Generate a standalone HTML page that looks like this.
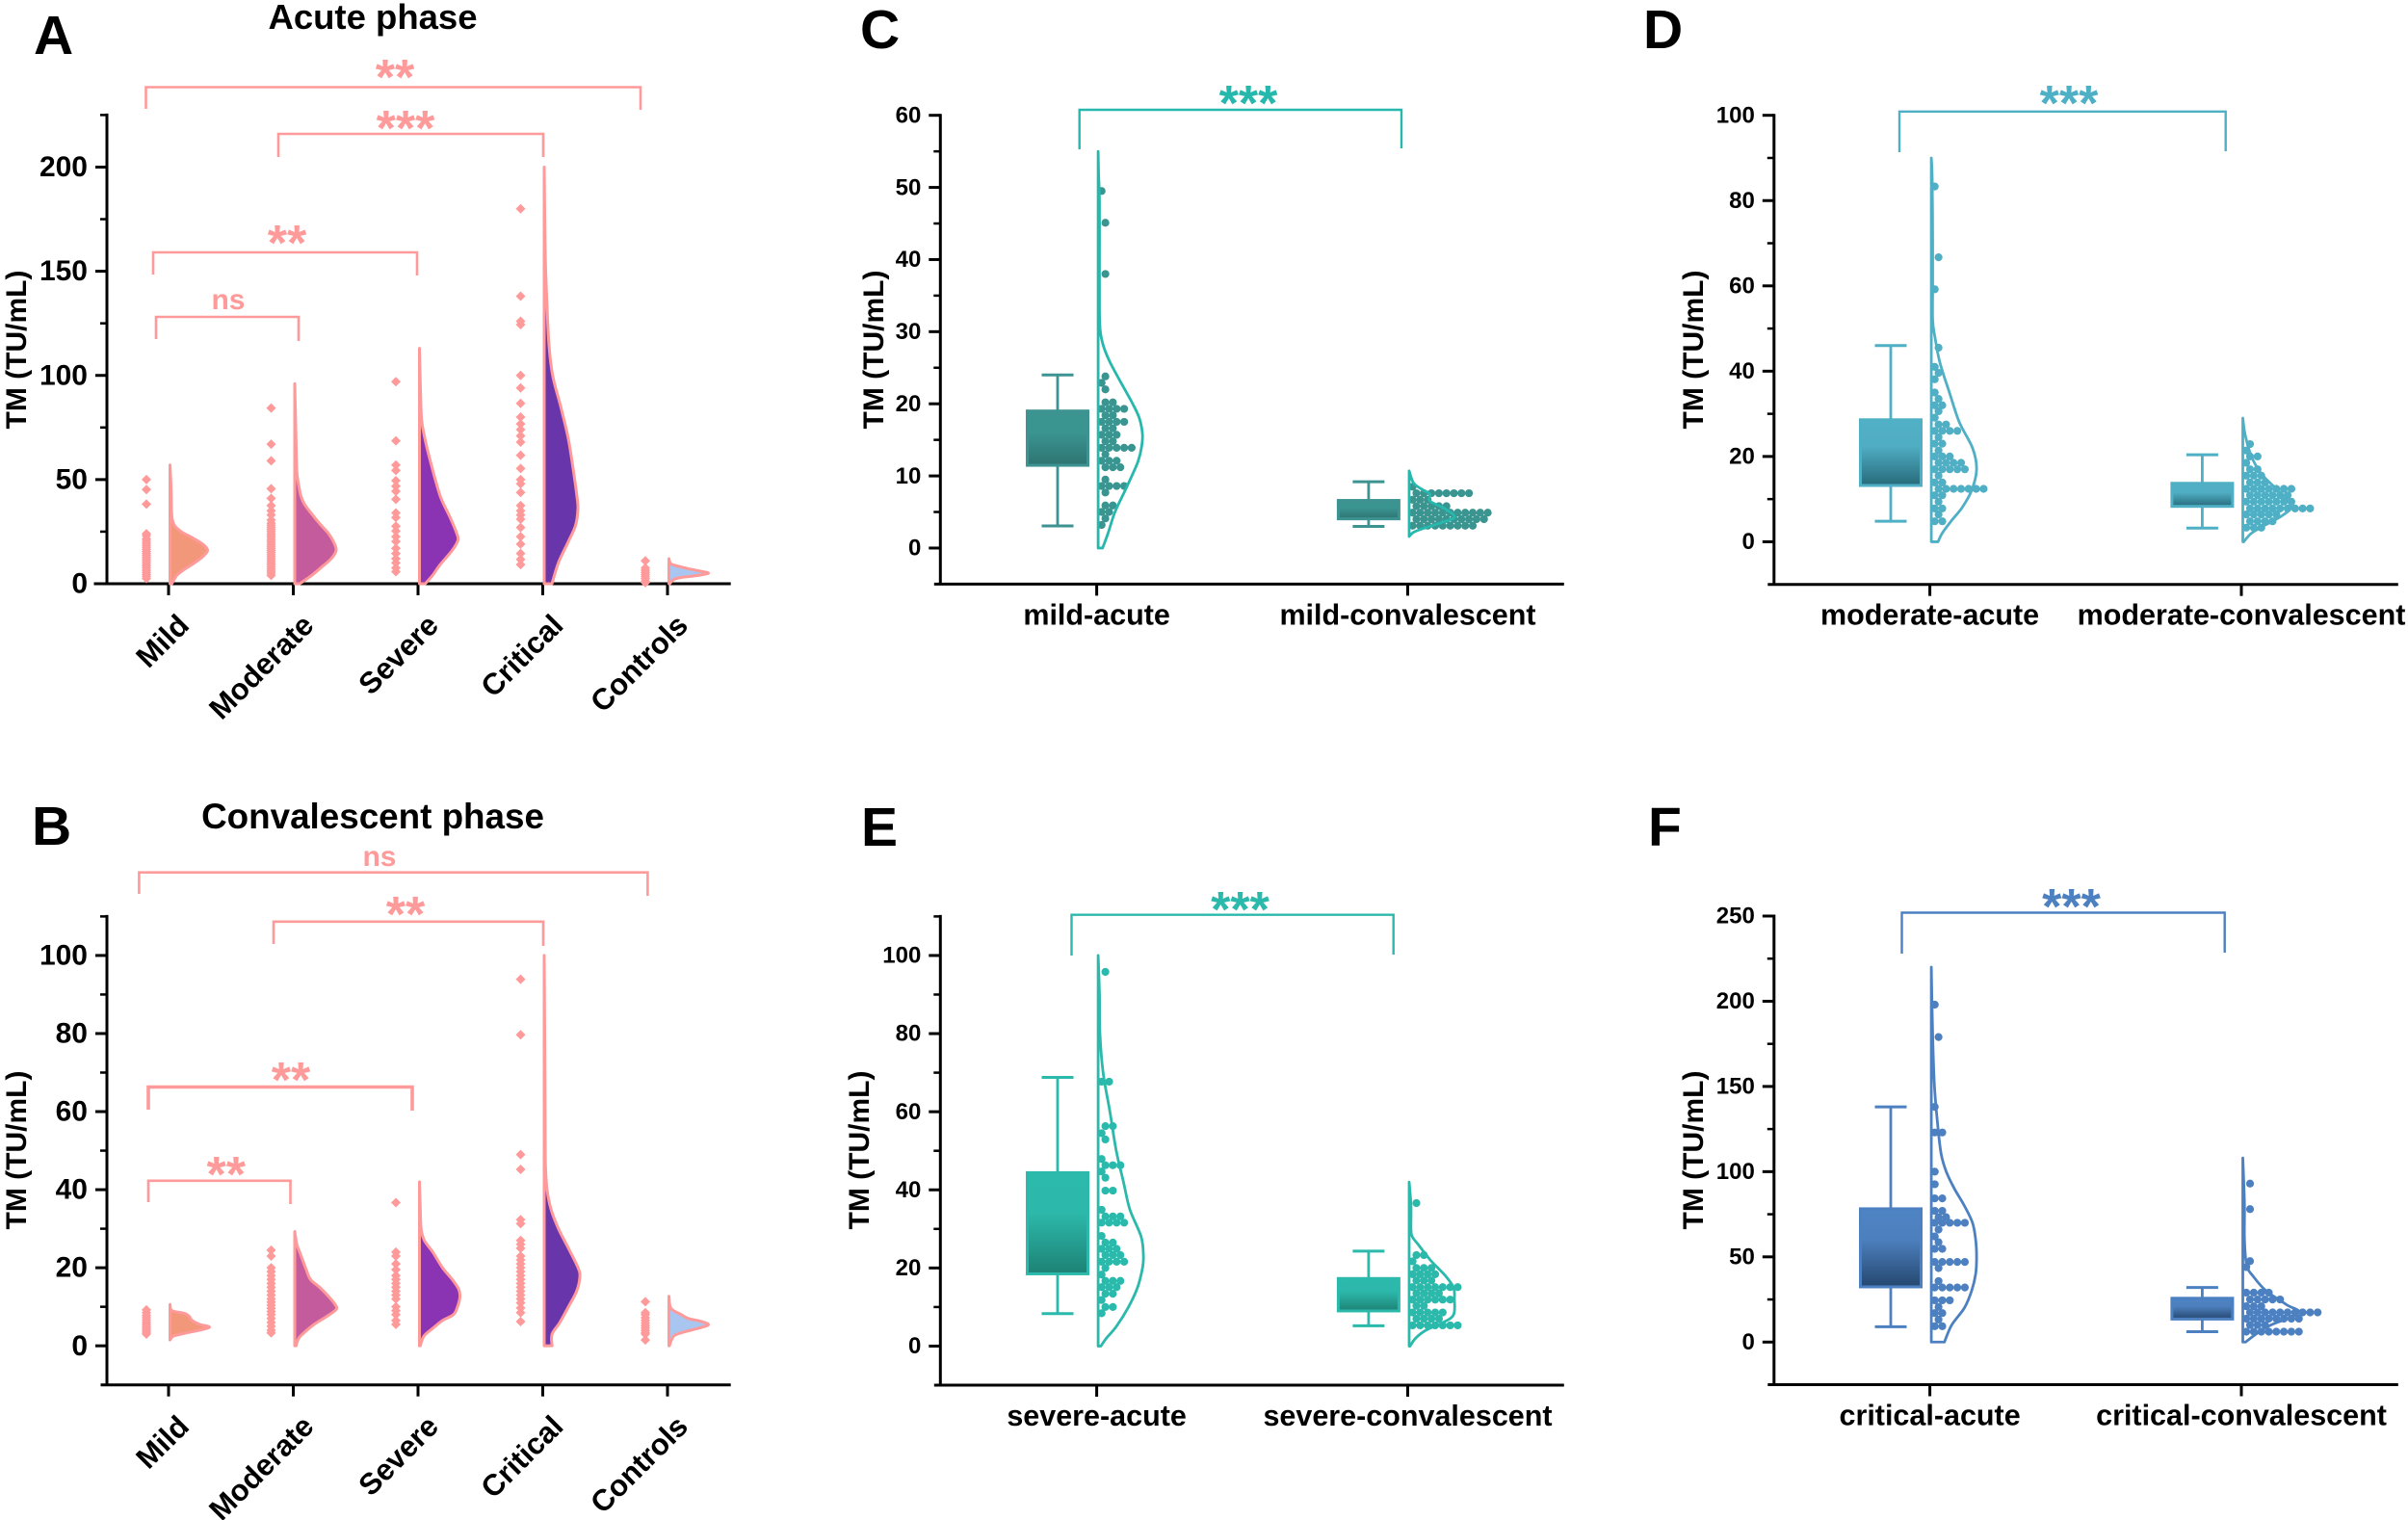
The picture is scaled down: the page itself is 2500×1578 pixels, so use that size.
<!DOCTYPE html>
<html lang="en">
<head>
<meta charset="utf-8">
<title>TM levels by severity</title>
<style>
html,body{margin:0;padding:0;background:#fff}
svg{display:block;position:absolute;left:0;top:0}
text{font-family:"Liberation Sans",Arial,sans-serif;font-weight:bold;fill:#000}
</style>
</head>
<body>
<svg id="figure" xmlns="http://www.w3.org/2000/svg" width="2500" height="1578" viewBox="0 0 2500 1578">
<defs>
<linearGradient id="grad-c" x1="0" y1="0" x2="0" y2="1"><stop offset="0" stop-color="#3b9490"/><stop offset="0.4" stop-color="#3a9490"/><stop offset="1" stop-color="#2e7472"/></linearGradient>
<linearGradient id="grad-d" x1="0" y1="0" x2="0" y2="1"><stop offset="0" stop-color="#52b0c6"/><stop offset="0.4" stop-color="#50adc3"/><stop offset="1" stop-color="#276b7b"/></linearGradient>
<linearGradient id="grad-e" x1="0" y1="0" x2="0" y2="1"><stop offset="0" stop-color="#2cbaac"/><stop offset="0.4" stop-color="#2cb8aa"/><stop offset="1" stop-color="#1d8275"/></linearGradient>
<linearGradient id="grad-f" x1="0" y1="0" x2="0" y2="1"><stop offset="0" stop-color="#4f84c4"/><stop offset="0.4" stop-color="#4c7fbd"/><stop offset="1" stop-color="#25476f"/></linearGradient>
</defs>
<rect width="2500" height="1578" fill="#fff"/>

<text x="35" y="56" font-size="57">A</text>
<text x="33" y="877" font-size="57">B</text>
<text x="893" y="50" font-size="57">C</text>
<text x="1706" y="50" font-size="57">D</text>
<text x="894" y="878" font-size="57">E</text>
<text x="1711" y="878" font-size="57">F</text>

<text x="387" y="30" font-size="36.5" text-anchor="middle">Acute phase</text>
<text x="387" y="860" font-size="36.8" text-anchor="middle">Convalescent phase</text>

<text transform="translate(27 363) rotate(-90)" font-size="30" text-anchor="middle">TM (TU/mL)</text>
<text transform="translate(27 1194) rotate(-90)" font-size="30" text-anchor="middle">TM (TU/mL)</text>
<text transform="translate(917 363) rotate(-90)" font-size="30" text-anchor="middle">TM (TU/mL)</text>
<text transform="translate(1768 363) rotate(-90)" font-size="30" text-anchor="middle">TM (TU/mL)</text>
<text transform="translate(902 1194) rotate(-90)" font-size="30" text-anchor="middle">TM (TU/mL)</text>
<text transform="translate(1768 1194) rotate(-90)" font-size="30" text-anchor="middle">TM (TU/mL)</text>
</svg>

<script>
// ---------- category labels and tick labels ----------
const severityCategories = ["Mild", "Moderate", "Severe", "Critical", "Controls"];
const mildCategories = ["mild-acute", "mild-convalescent"];
const moderateCategories = ["moderate-acute", "moderate-convalescent"];
const severeCategories = ["severe-acute", "severe-convalescent"];
const criticalCategories = ["critical-acute", "critical-convalescent"];
const ticksA = [0, 50, 100, 150, 200];
const ticksB = [0, 20, 40, 60, 80, 100];
const ticksC = [0, 10, 20, 30, 40, 50, 60];
const ticksD = [0, 20, 40, 60, 80, 100];
const ticksE = [0, 20, 40, 60, 80, 100];
const ticksF = [0, 50, 100, 150, 200, 250];

// ---------- panel A: individual values ----------
const aMildPoints = [50, 45.2, 38.2, 24, 23, 21.5, 20.5, 19.5, 18.5, 17.5, 16.5, 15.5, 14.5, 13.5, 12.5, 11.5, 10.5, 9.5, 8.5, 7.5, 6.5, 5.5, 4.5, 3.5, 2.5];
const aModeratePoints = [84.3, 67, 59, 45.6, 41, 37.5, 35, 33, 30.6, 29, 28, 27, 26, 25, 24, 23, 22, 21, 20, 19, 18, 17, 16, 15, 14, 13, 12, 11, 10, 9, 8, 7, 6, 5, 4];
const aSeverePoints = [97, 68.6, 57, 54.4, 49.5, 46.8, 44.4, 40.5, 34, 31.8, 27.6, 25.3, 22.6, 20.3, 17, 14.5, 12, 10, 7.6, 5.8];
const aCriticalPoints = [180, 138, 126, 124.4, 100, 94, 86.6, 80, 76.7, 74, 71, 68, 61.7, 55.3, 50, 48, 43.8, 37.5, 35, 33, 31, 27, 22.6, 19, 14.5, 11.7, 9.2];
const aControlPoints = [11, 7.6, 6.5, 5.5, 4.5, 3.5, 2.5, 1.2, 0.5];

// ---------- panel A: density curves (level, density % of peak) ----------
const aMildLevels = [0, 4, 7, 10, 13, 16, 19, 22, 25, 28, 31, 35, 45, 57];
const aMildDensity = [5, 18, 39, 65, 87, 100, 87, 60, 30, 12, 6, 4, 3, 0];
const aModerateLevels = [0, 4, 8, 12, 16, 20, 24, 28, 32, 38, 42, 48, 54, 70, 96];
const aModerateDensity = [12, 41, 65, 88, 100, 94, 82, 64, 47, 24, 15, 9, 5, 3, 0];
const aSevereLevels = [0, 4, 9, 16, 21, 25, 32, 41, 50, 59, 68, 78, 90, 113];
const aSevereDensity = [15, 34, 53, 85, 100, 95, 79, 56, 41, 28, 16, 6, 3, 0];
const aCriticalLevels = [0, 10, 20, 28, 36, 42, 55, 70, 85, 100, 115, 135, 152, 170, 200];
const aCriticalDensity = [23, 42, 71, 93, 100, 97, 86, 71, 49, 25, 14, 8, 4, 2, 0];
const aControlLevels = [0, 2, 3, 4, 5, 6, 7.5, 9, 10, 12];
const aControlDensity = [2, 12, 31, 73, 100, 80, 43, 12, 3, 0];

// ---------- panel B: individual values ----------
const bMildPoints = [9.2, 8.5, 7.8, 7.2, 6.6, 6, 5.5, 5, 4.5, 4, 3.5, 3];
const bModeratePoints = [24.5, 23, 20, 19, 18, 17, 16, 15, 14, 13, 12, 11.2, 10.4, 9.6, 8.8, 8, 7, 6, 5, 4, 3.3];
const bSeverePoints = [36.7, 24, 23, 21, 19.5, 18, 17, 16, 15, 14, 13, 12, 10, 9, 8, 6.5, 5.5];
const bCriticalPoints = [93.9, 79.7, 49, 45.2, 32.3, 31.3, 27, 26, 25, 23, 22, 21, 20, 19, 18, 17, 16, 15, 14, 13, 12, 11, 9.7, 8.5, 6.2];
const bControlPoints = [11.3, 8.5, 8, 7.2, 6.5, 5.8, 5.2, 4.6, 4, 3.4, 3, 1.5];

// ---------- panel B: density curves ----------
const bMildLevels = [1.5, 2.5, 3.2, 4, 4.8, 5.5, 6.5, 7.5, 8.3, 9, 10.6];
const bMildDensity = [0, 9, 37, 75, 100, 75, 56, 49, 37, 5, 0];
const bModerateLevels = [0, 2, 3.5, 5.5, 7.5, 9.3, 10.5, 12.5, 15, 17, 20, 24, 26, 29.3];
const bModerateDensity = [3, 10, 24, 47, 77, 100, 98, 83, 60, 38, 26, 12, 5, 0];
const bSevereLevels = [0, 2.5, 4.5, 6.5, 8, 10, 12.5, 14.5, 17, 20, 24, 27, 30, 35, 42];
const bSevereDensity = [2, 11, 33, 57, 84, 94, 100, 97, 81, 57, 33, 12, 4, 2, 0];
const bCriticalLevels = [0, 3, 6, 10, 14, 17.6, 20, 25, 30, 35, 40, 45, 50, 70, 100];
const bCriticalDensity = [22, 22, 44, 68, 91, 100, 95, 68, 40, 19, 8, 4, 3, 2, 0];
const bControlLevels = [0, 2.5, 3.5, 4.5, 5.4, 6.3, 7, 8, 9, 10, 12.7];
const bControlDensity = [1, 12, 37, 74, 100, 80, 49, 31, 12, 3, 0];

// ---------- panel C ----------
const cAcuteBox = [3.07, 11.47, 19, 24];
const cAcuteDotLevels = [3.2, 4.1, 5.0, 5.9, 7.7, 8.6, 9.5, 11.2, 12.1, 13, 13.9, 14.8, 15.7, 16.6, 17.5, 18.4, 19.3, 20.2, 22, 22.9, 23.8, 38, 45.1, 49.5];
const cAcuteDotCounts = [1, 1, 2, 2, 1, 4, 1, 3, 3, 1, 5, 2, 3, 2, 4, 2, 4, 2, 1, 1, 1, 1, 1, 1];
const cAcuteCurveLevels = [0, 2, 5, 8, 10, 12, 14, 15.8, 18, 20, 22, 24, 26, 28, 30, 33, 40, 48, 52, 55];
const cAcuteCurveDensity = [10, 22, 38, 61, 76, 90, 98, 100, 93, 78, 60, 42, 25, 12, 5, 3, 3, 3, 1, 0];
const cConvBox = [3, 4.05, 6.6, 9.2];
const cConvDotLevels = [3.1, 4.0, 4.9, 5.8, 6.7, 7.6, 8.5];
const cConvDotCounts = [9, 10, 11, 5, 3, 8, 1];
const cConvCurveLevels = [1.6, 2.2, 2.8, 3.5, 4.3, 5.5, 6.5, 7.5, 8, 9, 10.7];
const cConvCurveDensity = [0, 10, 35, 70, 100, 78, 46, 46, 32, 10, 0];

// ---------- panel D ----------
const dAcuteBox = [4.8, 13.2, 28.6, 46];
const dAcuteDotLevels = [4.8, 6.4, 7.8, 9.4, 10.9, 12.4, 13.9, 15.5, 17, 18.5, 20, 21.4, 23, 24.5, 26, 27.5, 29.1, 30.6, 32, 33.5, 35, 38.1, 39.6, 41, 45.5, 59.2, 66.7, 83.3];
const dAcuteDotCounts = [2, 1, 2, 1, 2, 7, 2, 1, 5, 4, 3, 1, 2, 1, 4, 2, 1, 1, 2, 1, 1, 1, 1, 1, 1, 1, 1, 1];
const dAcuteCurveLevels = [0, 2, 5, 8, 12, 17, 22, 28, 35, 42, 48, 52, 60, 70, 85, 90];
const dAcuteCurveDensity = [15, 24, 45, 68, 89, 100, 91, 62, 40, 19, 8, 3, 3, 3, 2, 0];
const dConvBox = [3.2, 8.3, 13.7, 20.4];
const dConvDotLevels = [3.3, 4.8, 6.4, 7.8, 9.4, 10.9, 12.4, 13.9, 15.5, 17, 18.5, 20, 21.4, 22.9];
const dConvDotCounts = [3, 4, 5, 9, 7, 6, 7, 3, 3, 2, 1, 2, 1, 1];
const dConvCurveLevels = [0, 2, 4, 6, 8, 10, 13, 16, 20, 25, 29];
const dConvCurveDensity = [2, 18, 48, 80, 100, 90, 64, 38, 18, 5, 0];

// ---------- panel E ----------
const eAcuteBox = [8.3, 18.5, 44.4, 68.8];
const eAcuteDotLevels = [8.4, 10, 11.8, 13.4, 15.1, 16.7, 18.3, 20, 21.6, 23.3, 24.9, 26.5, 28.2, 31.6, 33.2, 34.9, 39.8, 43.1, 44.7, 46.3, 47.9, 52.9, 54.5, 56.3, 67.7, 95.8];
const eAcuteDotCounts = [1, 2, 1, 2, 3, 3, 1, 1, 4, 3, 3, 2, 1, 4, 3, 1, 2, 1, 1, 3, 1, 1, 1, 2, 2, 1];
const eAcuteCurveLevels = [0, 2, 5, 10, 15, 20, 23, 28, 35, 42, 50, 60, 70, 80, 90, 100];
const eAcuteCurveDensity = [6, 18, 40, 67, 87, 98, 100, 95, 70, 56, 40, 26, 11, 4, 3, 0];
const eConvBox = [5.2, 9, 17.3, 24.3];
const eConvDotLevels = [5.3, 7, 8.6, 10.3, 11.9, 13.5, 15.1, 16.8, 18.4, 20, 21.7, 23.3, 36.6];
const eConvDotCounts = [7, 4, 5, 2, 6, 4, 7, 3, 4, 3, 1, 2, 1];
const eConvCurveLevels = [0, 2, 4, 6, 8, 12, 15, 18, 22, 26, 28, 30, 36, 42];
const eConvCurveDensity = [2, 14, 36, 74, 98, 100, 98, 80, 47, 20, 7, 4, 4, 0];

// ---------- panel F ----------
const fAcuteBox = [9, 32.4, 78.2, 138];
const fAcuteDotLevels = [9.3, 13.2, 17, 20.6, 24.5, 32, 35.8, 43.4, 47, 54.7, 58.6, 62, 66, 70, 73.3, 77, 84.3, 92.6, 100, 123, 138, 179, 198];
const fAcuteDotCounts = [2, 1, 2, 1, 3, 5, 1, 1, 5, 2, 1, 1, 1, 5, 2, 2, 2, 1, 1, 2, 1, 1, 1];
const fAcuteCurveLevels = [0, 10, 20, 30, 40, 50, 60, 70, 80, 90, 100, 110, 125, 150, 180, 220];
const fAcuteCurveDensity = [29, 45, 73, 89, 98, 100, 98, 91, 73, 51, 33, 22, 15, 7, 3, 0];
const fConvBox = [6.1, 13.5, 25.7, 32];
const fConvDotLevels = [6.1, 10, 13.7, 17.4, 21, 25, 29, 44, 47.5, 78, 93];
const fConvDotCounts = [8, 3, 8, 10, 3, 5, 4, 1, 1, 1, 1];
const fConvCurveLevels = [0, 5, 10, 17, 22, 30, 38, 45, 60, 80, 100, 108];
const fConvCurveDensity = [5, 25, 50, 100, 78, 42, 20, 7, 3, 3, 1, 0];

// ---------- helpers ----------
const SVG_NS = 'http://www.w3.org/2000/svg';
const figure = document.getElementById('figure');

function makeNode(tag, props) {
  const node = document.createElementNS(SVG_NS, tag);
  for (const key in props) node.setAttribute(key, props[key]);
  figure.appendChild(node);
  return node;
}

function linearAxis(domainMin, domainMax, rangeMin, rangeMax) {
  return function (value) {
    return rangeMin + (value - domainMin) / (domainMax - domainMin) * (rangeMax - rangeMin);
  };
}

function smoothPath(points) {
  let d = '';
  for (let i = 0; i < points.length - 1; i++) {
    const p0 = points[Math.max(i - 1, 0)];
    const p1 = points[i];
    const p2 = points[i + 1];
    const p3 = points[Math.min(i + 2, points.length - 1)];
    const c1x = p1[0] + (p2[0] - p0[0]) / 6;
    const c1y = p1[1] + (p2[1] - p0[1]) / 6;
    const c2x = p2[0] - (p3[0] - p1[0]) / 6;
    const c2y = p2[1] - (p3[1] - p1[1]) / 6;
    d += ' C' + c1x.toFixed(2) + ' ' + c1y.toFixed(2) + ' ' + c2x.toFixed(2) + ' ' + c2y.toFixed(2) + ' ' + p2[0].toFixed(2) + ' ' + p2[1].toFixed(2);
  }
  return d;
}

function violinPath(levels, density, baseX, peakWidth, yAxis) {
  const pts = levels.map(function (level, i) {
    return [baseX + density[i] / 100 * peakWidth, yAxis(level)];
  });
  return 'M' + baseX + ' ' + pts[0][1].toFixed(2) + ' L' + pts[0][0].toFixed(2) + ' ' + pts[0][1].toFixed(2) +
    smoothPath(pts) + ' L' + baseX + ' ' + pts[pts.length - 1][1].toFixed(2) + ' Z';
}

function drawAxes(panel) {
  const yAxis = panel.yAxis;
  const xAxis = panel.xAxis;

  const yLine = makeNode('line', { x1: panel.axisX, x2: panel.axisX, y1: panel.top - 1.5, y2: panel.bottom, stroke: '#000', 'stroke-width': 3 });
  
  

  const xLine = makeNode('line', { x1: panel.axisX - (panel.crossTick || 0) - 1.5, x2: panel.right, y1: panel.bottom, y2: panel.bottom, stroke: '#000', 'stroke-width': 3 });
  
  

  for (let v = panel.domain[0]; v <= panel.domain[1] + 1e-6; v += panel.minorStep) {
    if (panel.ticks.indexOf(v) >= 0) continue;
    if (v === panel.domain[0]) continue;
    const minor = makeNode('line', { x1: panel.axisX - 7, x2: panel.axisX, y1: yAxis(v), y2: yAxis(v), stroke: '#000', 'stroke-width': 2.5 });
    
    
  }

  panel.ticks.forEach(function (tick) {
    const mark = makeNode('line', { x1: panel.axisX - 12, x2: panel.axisX, y1: yAxis(tick), y2: yAxis(tick), stroke: '#000', 'stroke-width': 3 });
    
    
    const label = makeNode('text', { x: panel.axisX - 20, y: yAxis(tick) + panel.tickSize * 0.32, 'font-size': panel.tickSize, 'text-anchor': 'end' });
    label.textContent = tick;
    
    
  });

  panel.categories.forEach(function (category, i) {
    const mark = makeNode('line', { x1: xAxis(i), x2: xAxis(i), y1: panel.bottom, y2: panel.bottom + 12, stroke: '#000', 'stroke-width': 3 });
    
    
    let label;
    if (panel.rotated) {
      label = makeNode('text', { 'font-size': 31, 'text-anchor': 'end', transform: 'translate(' + (xAxis(i) + 23) + ' ' + (panel.bottom + 45) + ') rotate(-45)' });
    } else {
      label = makeNode('text', { x: xAxis(i), y: panel.bottom + 42, 'font-size': 30.5, 'text-anchor': 'middle' });
    }
    label.textContent = category;
    
    
  });
}

function drawBracket(panelId, x1, x2, y, drop1, drop2, label, labelX, labelY, color, width) {
  const path = makeNode('path', { d: 'M' + x1 + ' ' + drop1 + ' V' + y + ' H' + x2 + ' V' + drop2, fill: 'none', stroke: color, 'stroke-width': width });
  
  
  const isStars = label.charAt(0) === '*';
  const text = makeNode('text', { x: labelX, y: labelY, 'font-size': isStars ? 52 : 30, 'text-anchor': 'middle' });
  text.style.fill = color;
  text.textContent = label;
  
  
}

function drawSeverityGroup(panel, index, points, levels, density, peakWidth, fill) {
  const tickX = panel.xAxis(index);
  const slug = panel.categories[index].toLowerCase();
  const violin = makeNode('path', { d: violinPath(levels, density, tickX + 1.5, peakWidth, panel.yAxis), fill: fill, stroke: '#ff9a9a', 'stroke-width': 3, 'stroke-linejoin': 'round' });
  
  
  points.forEach(function (value) {
    const cx = tickX - 23;
    const cy = panel.yAxis(value);
    const r = 5;
    const diamond = makeNode('path', { d: 'M' + cx + ' ' + (cy - r) + ' L' + (cx + r) + ' ' + cy + ' L' + cx + ' ' + (cy + r) + ' L' + (cx - r) + ' ' + cy + ' Z', fill: '#ff9a9a' });
    
    
  });
}

function drawRain(panel, index, box, dotLevels, dotCounts, curveLevels, curveDensity, peakWidth, palette) {
  const tickX = panel.xAxis(index);
  const slug = panel.categories[index];
  const yAxis = panel.yAxis;
  const cx = tickX - 40.6;
  const halfBox = 31.5;
  const halfCap = 16.5;

  const stem = makeNode('line', { x1: cx, x2: cx, y1: yAxis(box[3]), y2: yAxis(box[0]), stroke: palette.box, 'stroke-width': 2.8 });
  
  
  [box[0], box[3]].forEach(function (value) {
    const cap = makeNode('line', { x1: cx - halfCap, x2: cx + halfCap, y1: yAxis(value), y2: yAxis(value), stroke: palette.box, 'stroke-width': 3 });
    
    
  });
  const rect = makeNode('rect', { x: cx - halfBox, width: halfBox * 2, y: yAxis(box[2]), height: yAxis(box[1]) - yAxis(box[2]), fill: 'url(#' + palette.gradient + ')', stroke: palette.box, 'stroke-width': 3 });
  
  

  const baseX = tickX + 1.5;
  const minY = yAxis(Math.min.apply(null, dotLevels));
  dotLevels.forEach(function (level, row) {
    const rowIndex = Math.round((minY - yAxis(level)) / 6.67);
    const shift = rowIndex % 2 === 1 ? 3.9 : 0;
    for (let i = 0; i < dotCounts[row]; i++) {
      const dot = makeNode('circle', { cx: baseX + 3.6 + shift + i * 7.8, cy: yAxis(level), r: 4.1, fill: palette.dot });
      
      
    }
  });

  const violin = makeNode('path', { d: violinPath(curveLevels, curveDensity, baseX, peakWidth, yAxis), fill: 'none', stroke: palette.line, 'stroke-width': 2.8, 'stroke-linejoin': 'round' });
  
  
}

// ---------- panel layouts ----------
const PINK = '#ff9a9a';

const panelA = { id: 'panel-a', categories: severityCategories, ticks: ticksA, domain: [0, 225], top: 119.4, bottom: 606, axisX: 111, right: 758.7, minorStep: 25, tickSize: 30, rotated: true, crossTick: 12,
  yAxis: linearAxis(0, 225, 606, 119.4), xAxis: linearAxis(0, 4, 175, 693) };
const panelB = { id: 'panel-b', categories: severityCategories, ticks: ticksB, domain: [-10, 110], top: 951.4, bottom: 1437.7, axisX: 111, right: 758.7, minorStep: 10, tickSize: 30, rotated: true, crossTick: 5,
  yAxis: linearAxis(-10, 110, 1437.7, 951.4), xAxis: linearAxis(0, 4, 175, 693) };
const panelC = { id: 'panel-c', categories: mildCategories, ticks: ticksC, domain: [-5, 60], top: 119.7, bottom: 606.4, axisX: 976.3, right: 1623.8, minorStep: 5, tickSize: 24, rotated: false, crossTick: 5,
  yAxis: linearAxis(-5, 60, 606.4, 119.7), xAxis: linearAxis(0, 1, 1138.6, 1461.5) };
const panelD = { id: 'panel-d', categories: moderateCategories, ticks: ticksD, domain: [-10, 100], top: 119.7, bottom: 606.7, axisX: 1841.8, right: 2489.8, minorStep: 10, tickSize: 24, rotated: false, crossTick: 5,
  yAxis: linearAxis(-10, 100, 606.7, 119.7), xAxis: linearAxis(0, 1, 2003.6, 2327) };
const panelE = { id: 'panel-e', categories: severeCategories, ticks: ticksE, domain: [-10, 110], top: 951.4, bottom: 1438, axisX: 976.3, right: 1623.8, minorStep: 10, tickSize: 24, rotated: false, crossTick: 5,
  yAxis: linearAxis(-10, 110, 1438, 951.4), xAxis: linearAxis(0, 1, 1138.6, 1461.5) };
const panelF = { id: 'panel-f', categories: criticalCategories, ticks: ticksF, domain: [-25, 250], top: 951, bottom: 1437.5, axisX: 1841.8, right: 2489.8, minorStep: 25, tickSize: 24, rotated: false, crossTick: 5,
  yAxis: linearAxis(-25, 250, 1437.5, 951), xAxis: linearAxis(0, 1, 2003.6, 2327) };

const paletteC = { box: '#3d9391', dot: '#3a9490', line: '#26b8ac', gradient: 'grad-c' };
const paletteD = { box: '#4fafc5', dot: '#4fafc5', line: '#4fafc5', gradient: 'grad-d' };
const paletteE = { box: '#2bb9ab', dot: '#2bb9ab', line: '#2bb9ab', gradient: 'grad-e' };
const paletteF = { box: '#4c80c0', dot: '#4c80c0', line: '#4c80c0', gradient: 'grad-f' };

// ---------- draw ----------
drawAxes(panelA);
drawSeverityGroup(panelA, 0, aMildPoints, aMildLevels, aMildDensity, 39, '#f2977a');
drawSeverityGroup(panelA, 1, aModeratePoints, aModerateLevels, aModerateDensity, 43, '#c45b9c');
drawSeverityGroup(panelA, 2, aSeverePoints, aSevereLevels, aSevereDensity, 40, '#8a33b3');
drawSeverityGroup(panelA, 3, aCriticalPoints, aCriticalLevels, aCriticalDensity, 35, '#6835ab');
drawSeverityGroup(panelA, 4, aControlPoints, aControlLevels, aControlDensity, 41, '#a9c6f0');
drawBracket('panel-a', 151.5, 665, 90.5, 113, 114, '**', 410, 98, PINK, 2.6);
drawBracket('panel-a', 289, 564, 139, 163, 163, '***', 421, 151, PINK, 2.6);
drawBracket('panel-a', 159, 433, 262, 285, 286, '**', 298, 270, PINK, 2.6);
drawBracket('panel-a', 162, 310, 329, 352, 354, 'ns', 237, 321, PINK, 2.6);

drawAxes(panelB);
drawSeverityGroup(panelB, 0, bMildPoints, bMildLevels, bMildDensity, 41, '#f2977a');
drawSeverityGroup(panelB, 1, bModeratePoints, bModerateLevels, bModerateDensity, 43, '#c45b9c');
drawSeverityGroup(panelB, 2, bSeverePoints, bSevereLevels, bSevereDensity, 42, '#8a33b3');
drawSeverityGroup(panelB, 3, bCriticalPoints, bCriticalLevels, bCriticalDensity, 37, '#6835ab');
drawSeverityGroup(panelB, 4, bControlPoints, bControlLevels, bControlDensity, 41, '#a9c6f0');
drawBracket('panel-b', 144.4, 672.4, 905.7, 928, 930, 'ns', 394, 899, PINK, 2.6);
drawBracket('panel-b', 284, 564, 956.8, 980, 982, '**', 421, 967, PINK, 2.6);
drawBracket('panel-b', 154, 428, 1128.5, 1152, 1153, '**', 302, 1139, PINK, 3.6);
drawBracket('panel-b', 154, 301.5, 1225.8, 1248, 1250, '**', 234.7, 1237, PINK, 2.6);

drawAxes(panelC);
drawRain(panelC, 0, cAcuteBox, cAcuteDotLevels, cAcuteDotCounts, cAcuteCurveLevels, cAcuteCurveDensity, 46, paletteC);
drawRain(panelC, 1, cConvBox, cConvDotLevels, cConvDotCounts, cConvCurveLevels, cConvCurveDensity, 47, paletteC);
drawBracket('panel-c', 1120.7, 1455, 114, 155, 154, '***', 1296, 125, '#26b8ac', 2.4);

drawAxes(panelD);
drawRain(panelD, 0, dAcuteBox, dAcuteDotLevels, dAcuteDotCounts, dAcuteCurveLevels, dAcuteCurveDensity, 47, paletteD);
drawRain(panelD, 1, dConvBox, dConvDotLevels, dConvDotCounts, dConvCurveLevels, dConvCurveDensity, 50, paletteD);
drawBracket('panel-d', 1972, 2310.7, 115.8, 158, 157, '***', 2148, 125, '#4fafc5', 2.4);

drawAxes(panelE);
drawRain(panelE, 0, eAcuteBox, eAcuteDotLevels, eAcuteDotCounts, eAcuteCurveLevels, eAcuteCurveDensity, 47, paletteE);
drawRain(panelE, 1, eConvBox, eConvDotLevels, eConvDotCounts, eConvCurveLevels, eConvCurveDensity, 47, paletteE);
drawBracket('panel-e', 1112.5, 1446.7, 949.7, 992, 991, '***', 1287.5, 962, '#2bb9ab', 2.4);

drawAxes(panelF);
drawRain(panelF, 0, fAcuteBox, fAcuteDotLevels, fAcuteDotCounts, fAcuteCurveLevels, fAcuteCurveDensity, 47, paletteF);
drawRain(panelF, 1, fConvBox, fConvDotLevels, fConvDotCounts, fConvCurveLevels, fConvCurveDensity, 58, paletteF);
drawBracket('panel-f', 1974.5, 2309.7, 947.5, 990, 989, '***', 2150.5, 959, '#4c80c0', 2.4);
</script>
</body>
</html>
